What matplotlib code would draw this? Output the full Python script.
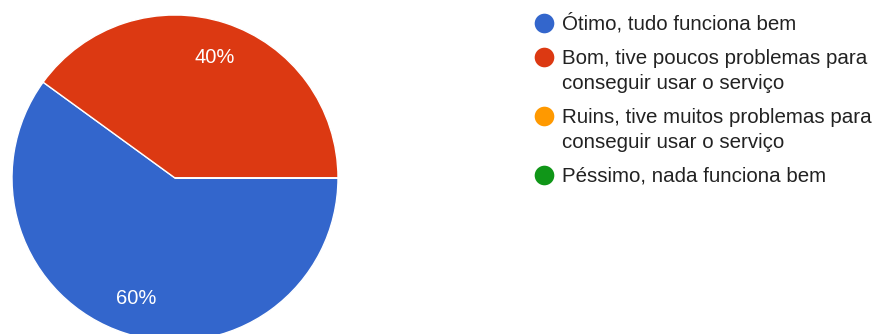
import matplotlib
matplotlib.use("Agg")
import matplotlib.pyplot as plt

# survey answers and share of responses (%)
categories = [
    "Ótimo, tudo funciona bem",
    "Bom, tive poucos problemas para\nconseguir usar o serviço",
    "Ruins, tive muitos problemas para\nconseguir usar o serviço",
    "Péssimo, nada funciona bem",
]
values = [60, 40, 0, 0]
colors = ["#3366cc", "#dc3912", "#ff9900", "#109618"]

plt.rcParams["font.family"] = ["Liberation Sans", "DejaVu Sans"]

W, H = 882, 334
fig = plt.figure(figsize=(W / 100, H / 100), dpi=100)
ax = fig.add_axes([0, 0, 1, 1])


def pct(p):
    return f"{p:.0f}%" if p > 0.5 else ""


wedges, texts, autotexts = ax.pie(
    values, colors=colors, startangle=0, counterclock=False,
    center=(175, H - 178), radius=163, autopct=pct, pctdistance=0.78,
    wedgeprops=dict(edgecolor="white", linewidth=1),
    textprops=dict(color="white", fontsize=14.5),
)

ax.set_xlim(0, W)
ax.set_ylim(0, H)
ax.set_aspect("equal")
ax.axis("off")

# legend, drawn by hand like the Google Forms chart
y = H - 22.5
for label, color in zip(categories, colors):
    ax.scatter([544], [y], s=200, color=color, linewidths=0, zorder=3)
    lines = label.split("\n")
    for i, line in enumerate(lines):
        ax.text(562, y - 7.5 - i * 25, line, fontsize=14.8, color="#222222",
                va="baseline", ha="left")
    y -= 34 + 25 * (len(lines) - 1)

fig.savefig("out.png", dpi=100)
